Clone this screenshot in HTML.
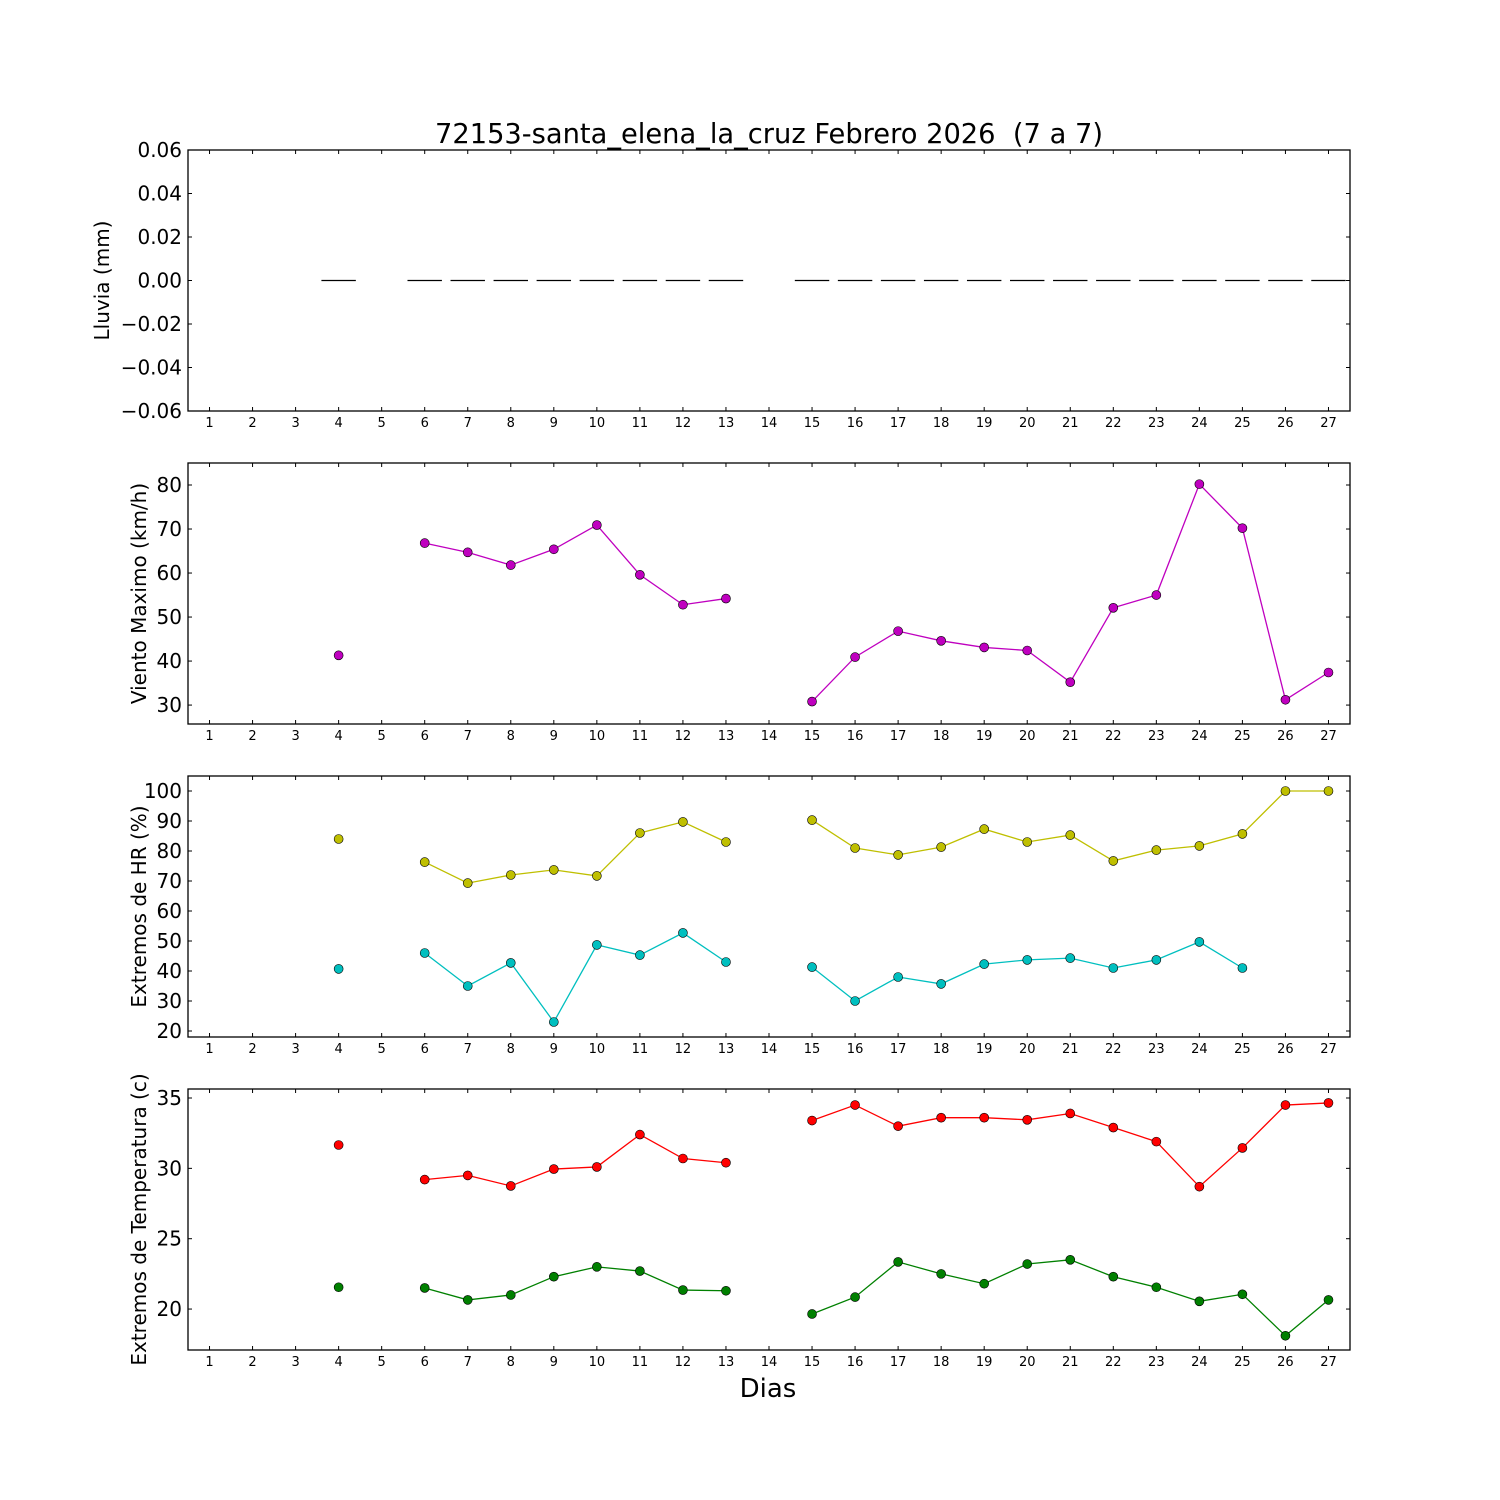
<!DOCTYPE html>
<html><head><meta charset="utf-8"><style>
body{margin:0;background:#fff}
svg{display:block;font-family:"DejaVu Sans","Liberation Sans",sans-serif}
</style></head><body>
<svg id="chart" width="1500" height="1500" viewBox="0 0 1500 1500" xmlns="http://www.w3.org/2000/svg">
<rect width="1500" height="1500" fill="#fff"/>
<text x="769" y="143" font-size="27.3" text-anchor="middle">72153-santa_elena_la_cruz Febrero 2026&#160; (7 a 7)</text>
<text x="768" y="1397" font-size="26" text-anchor="middle">Dias</text>
</svg>
<script>
const days = [1,2,3,4,5,6,7,8,9,10,11,12,13,14,15,16,17,18,19,20,21,22,23,24,25,26,27];
const N = null;
const rain = [N,N,N,0,N,0,0,0,0,0,0,0,0,N,0,0,0,0,0,0,0,0,0,0,0,0,0];
const windMax = [N,N,N,41.3,N,66.8,64.7,61.8,65.4,70.9,59.6,52.8,54.2,N,30.8,40.9,46.8,44.6,43.1,42.4,35.2,52.1,55,80.2,70.2,31.2,37.4];
const hrMax = [N,N,N,84,N,76.3,69.3,72,73.7,71.7,86,89.7,83,N,90.3,81,78.7,81.3,87.3,83,85.3,76.7,80.3,81.7,85.7,100,100];
const hrMin = [N,N,N,40.7,N,46,35,42.7,23,48.7,45.3,52.7,43,N,41.3,30,38,35.7,42.3,43.7,44.3,41,43.7,49.7,41,N,N];
const tMax = [N,N,N,31.66,N,29.2,29.5,28.75,29.95,30.1,32.4,30.7,30.4,N,33.4,34.5,33,33.6,33.6,33.45,33.9,32.9,31.9,28.7,31.45,34.5,34.65];
const tMin = [N,N,N,21.55,N,21.5,20.65,21,22.3,23,22.7,21.35,21.3,N,19.65,20.85,23.35,22.5,21.8,23.2,23.5,22.3,21.55,20.55,21.05,18.1,20.65];
const rainTicks = ["0.06","0.04","0.02","0.00","−0.02","−0.04","−0.06"];
const rainTickVals = [0.06,0.04,0.02,0,-0.02,-0.04,-0.06];
const windTicks = [30,40,50,60,70,80];
const hrTicks = [20,30,40,50,60,70,80,90,100];
const tTicks = [20,25,30,35];

const svg = document.getElementById('chart');
const NS = 'http://www.w3.org/2000/svg';
function mk(tag, attrs){const e=document.createElementNS(NS,tag);for(const k in attrs)e.setAttribute(k,attrs[k]);svg.appendChild(e);return e;}
const L=188, R=1350;
const xs = d => L + (d-0.5)/27*(R-L);

function panel(name, top, bot, ymin, ymax, tickVals, tickLabels, ylabel){
  const ys = v => bot - (v-ymin)/(ymax-ymin)*(bot-top);
  const fr = mk('rect',{x:L,y:top,width:R-L,height:bot-top,fill:'none',stroke:'#000','stroke-width':1.3});
  
  
  days.forEach(d=>{
    const x=xs(d);
    const t1=mk('line',{x1:x,x2:x,y1:bot,y2:bot-4,stroke:'#000'});
    
    
    mk('line',{x1:x,x2:x,y1:top,y2:top+4,stroke:'#000'});
    const lb=mk('text',{x:x,y:bot+16,'font-size':13,'text-anchor':'middle'});
    lb.textContent=d;
    
    
  });
  tickVals.forEach((v,i)=>{
    const y=ys(v);
    const t=mk('line',{x1:L,x2:L+4,y1:y,y2:y,stroke:'#000'});
    
    
    mk('line',{x1:R,x2:R-4,y1:y,y2:y,stroke:'#000'});
    const lb=mk('text',{x:L-6,y:y+7,'font-size':20,'text-anchor':'end'});
    lb.textContent=tickLabels[i];
    
    
  });
  const cy=(top+bot)/2;
  const yl=mk('text',{x:0,y:0,'font-size':20,'text-anchor':'middle',transform:`translate(${name==='rain'?109:146},${cy}) rotate(-90)`});
  yl.textContent=ylabel;
  
  
  return ys;
}
function series(name, data, ys, color){
  let seg=[];
  const segs=[];
  data.forEach((v,i)=>{ if(v===null){ if(seg.length) segs.push(seg); seg=[]; } else seg.push([xs(days[i]),ys(v)]); });
  if(seg.length) segs.push(seg);
  segs.forEach(s=>{ if(s.length>1){
    const p=mk('polyline',{points:s.map(q=>q.join(',')).join(' '),fill:'none',stroke:color,'stroke-width':1.3});
    
    
  }});
  data.forEach((v,i)=>{ if(v===null) return;
    const c=mk('circle',{cx:xs(days[i]),cy:ys(v),r:4.5,fill:color,stroke:'#000','stroke-width':0.6});
    
    
  });
}

const ysR = panel('rain',150,411,-0.06,0.06,rainTickVals,rainTicks,'Lluvia (mm)');
rain.forEach((v,i)=>{ if(v===null) return;
  const d=days[i];
  const l=mk('line',{x1:xs(d-0.4),x2:xs(d+0.4),y1:ysR(v),y2:ysR(v),stroke:'#000','stroke-width':1.3});
  
  
});
const ysW = panel('wind',463,724,25.7,85,windTicks,windTicks,'Viento Maximo (km/h)');
series('wind-max', windMax, ysW, '#bf00bf');
const ysH = panel('humidity',776,1037,18,105,hrTicks,hrTicks,'Extremos de HR (%)');
series('hr-max', hrMax, ysH, '#bfbf00');
series('hr-min', hrMin, ysH, '#00bfbf');
const ysT = panel('temperature',1089,1350,17.09,35.64,tTicks,tTicks,'Extremos de Temperatura (c)');
series('temp-max', tMax, ysT, '#ff0000');
series('temp-min', tMin, ysT, '#008000');
</script>
</body></html>
